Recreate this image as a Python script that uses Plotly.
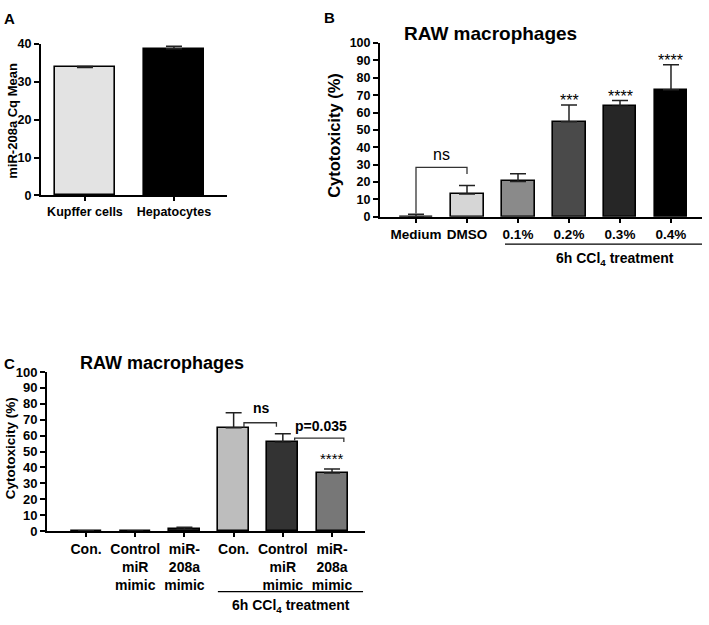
import plotly.graph_objects as go

W, H = 709, 625
FONT = "Liberation Sans, Arial, Helvetica, sans-serif"

# ---------------- data ----------------
# Panel A
a_cats = ["Kupffer cells", "Hepatocytes"]
a_means = [33.8, 38.8]
a_sems = [0.3, 0.6]
a_colors = ["#e3e3e3", "#000000"]

# Panel B
b_cats = ["Medium", "DMSO", "0.1%", "0.2%", "0.3%", "0.4%"]
b_means = [0.0, 13.1, 20.3, 54.8, 63.6, 73.2]
b_sems = [1.5, 5.0, 4.5, 9.6, 3.4, 14.4]
b_colors = ["#ffffff", "#d6d6d6", "#8a8a8a", "#4a4a4a", "#262626", "#000000"]
b_stars = ["", "", "", "***", "****", "****"]

# Panel C
c_labels = ["Con.", "Control<br>miR<br>mimic", "miR-<br>208a<br>mimic",
            "Con.", "Control<br>miR<br>mimic", "miR-<br>208a<br>mimic"]
c_means = [0.0, 0.0, 1.2, 65.0, 55.8, 36.6]
c_sems = [0.3, 0.0, 1.2, 9.4, 5.4, 2.5]
c_colors = ["#ffffff", "#ffffff", "#333333", "#bdbdbd", "#333333", "#777777"]
c_stars = ["", "", "", "", "", "****"]

y_ticks = list(range(0, 101, 10))
a_ticks = list(range(0, 41, 10))


def px(x):
    return x / W


def py(y):
    return 1 - y / H


fig = go.Figure()

def add_bars(xs, means, sems, colors, width, xa, ya):
    fig.add_trace(go.Bar(
        x=xs, y=means, width=width,
        marker=dict(color=colors, line=dict(color="black", width=1.6)),
        error_y=dict(type="data", array=sems, arrayminus=[0] * len(sems),
                     symmetric=False, color="#222222", thickness=1.5, width=8),
        xaxis=xa, yaxis=ya, showlegend=False, hoverinfo="skip"))

add_bars(list(range(len(a_cats))), a_means, a_sems, a_colors, 0.674, "x", "y")
add_bars(list(range(len(b_cats))), b_means, b_sems, b_colors, 0.647, "x2", "y2")
add_bars(list(range(len(c_labels))), c_means, c_sems, c_colors, 0.63, "x3", "y3")

def xax(dom, rng, ticktext, anchor, size):
    return dict(domain=[px(dom[0]), px(dom[1])], range=rng, anchor=anchor,
                tickmode="array", tickvals=list(range(len(ticktext))), ticktext=ticktext,
                showline=True, linecolor="black", linewidth=2, ticks="outside",
                ticklen=4, tickwidth=1.5, tickcolor="black", showgrid=False, zeroline=False,
                tickfont=dict(family=FONT, size=size, color="black", weight="bold"),
                fixedrange=True)

def yax(dom, rng, tickvals, anchor, size):
    return dict(domain=[py(dom[1]), py(dom[0])], range=rng, anchor=anchor,
                tickmode="array", tickvals=tickvals, ticktext=[str(v) for v in tickvals],
                showline=True, linecolor="black", linewidth=2, ticks="outside",
                ticklen=5, tickwidth=1.5, tickcolor="black", showgrid=False, zeroline=False,
                tickfont=dict(family=FONT, size=size, color="black", weight="bold"),
                fixedrange=True)

fig.update_layout(
    width=W, height=H, margin=dict(l=0, r=0, t=0, b=0),
    paper_bgcolor="white", plot_bgcolor="white", bargap=0,
    xaxis=xax((41, 227), [-0.494, 1.596], a_cats, "y", 12.5),
    yaxis=yax((38, 193), [0, 40], a_ticks, "x", 12.5),
    xaxis2=xax((380, 702), [-0.706, 5.608], b_cats, "y2", 13.5),
    yaxis2=yax((37, 215), [0, 100], y_ticks, "x2", 12.5),
    xaxis3=xax((47, 365), [-0.793, 5.67], c_labels, "y3", 14),
    yaxis3=yax((374, 537), [0, 100], y_ticks, "x3", 13),
)

ann = []
def text(x, y, t, size, bold=True, xref="paper", yref="paper", angle=0, xanchor="center"):
    ann.append(dict(x=x, y=y, xref=xref, yref=yref, text=t, showarrow=False,
                    textangle=angle, xanchor=xanchor, yanchor="middle",
                    font=dict(family=FONT, size=size, color="black",
                              weight="bold" if bold else "normal")))

# panel letters
text(px(9), py(12), "A", 15)
text(px(329), py(11), "B", 15)
text(px(9), py(365), "C", 15)
# titles
text(px(490), py(27), "RAW macrophages", 19)
text(px(161.5), py(365), "RAW macrophages", 18)
# y titles
text(px(12.5), py(117), "miR-208a Cq Mean", 13, angle=-90)
text(px(334), py(132), "Cytotoxicity (%)", 16.5, angle=-90)
text(px(10), py(452), "Cytotoxicity (%)", 13.5, angle=-90)

# stars
for i, s in enumerate(b_stars):
    if s:
        text(i, b_means[i] + b_sems[i] + 2.5, s, 16, bold=False, xref="x2", yref="y2")
for i, s in enumerate(c_stars):
    if s:
        text(i, 45.5, s, 15, bold=False, xref="x3", yref="y3")

# significance labels
text(0.5, 35.6, "ns", 16, bold=False, xref="x2", yref="y2")
text(3.57, 77.3, "ns", 14, xref="x3", yref="y3")
text(4.77, 66.0, "p=0.035", 14, xref="x3", yref="y3")

# treatment group labels
text(3.9, py(258), "6h CCl<sub>4</sub> treatment", 14, xref="x2")
text(4.17, py(614), "6h CCl<sub>4</sub> treatment", 14, xref="x3")

fig.update_layout(annotations=ann)

shapes = []
lw = dict(color="#333333", width=1.3)
# brackets
shapes.append(dict(type="path", xref="x2", yref="y2",
                   path="M 0,1.9 L 0,28.5 L 1,28.5 L 1,24.7", line=lw))
shapes.append(dict(type="path", xref="x3", yref="y3",
                   path="M 3.21,65.0 L 3.21,68.1 L 3.87,68.1 L 3.87,65.6", line=lw))
shapes.append(dict(type="path", xref="x3", yref="y3",
                   path="M 4.24,57.0 L 4.24,58.5 L 5.24,58.5 L 5.24,56.0", line=lw))
# group lines
shapes.append(dict(type="line", xref="x2", yref="paper", x0=1.745, x1=5.608,
                   y0=py(243), y1=py(243), line=dict(color="black", width=1.3)))
shapes.append(dict(type="line", xref="x3", yref="paper", x0=2.68, x1=5.63,
                   y0=py(599), y1=py(599), line=dict(color="black", width=1.3)))
fig.update_layout(shapes=shapes)

fig.write_html("out.html", config={"displayModeBar": False},
               post_script="document.body.style.margin='0';")
